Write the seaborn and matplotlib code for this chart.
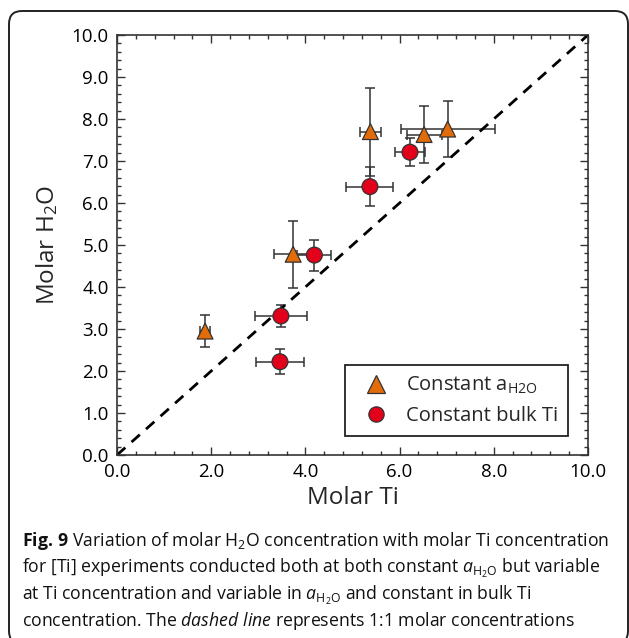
import numpy as np
import pandas as pd
import matplotlib
matplotlib.use("Agg")
import matplotlib.pyplot as plt
import seaborn as sns
from matplotlib.lines import Line2D
from matplotlib.patches import FancyBboxPatch
from matplotlib.ticker import MultipleLocator, FormatStrFormatter
from matplotlib.transforms import IdentityTransform

# datos (Molar Ti vs Molar H2O)
grupos = ["Constant a", "Constant bulk Ti"]

ti_a = [1.87, 3.74, 5.38, 6.52, 7.02]
h2o_a = [2.95, 4.78, 7.70, 7.63, 7.76]
ti_a_err = [0.10, 0.40, 0.23, 0.37, 1.00]
h2o_a_err = [0.38, 0.80, 1.05, 0.68, 0.66]

ti_b = [3.46, 3.48, 4.19, 5.37, 6.22]
h2o_b = [2.22, 3.31, 4.76, 6.39, 7.21]
ti_b_err = [0.50, 0.55, 0.36, 0.50, 0.32]
h2o_b_err = [0.30, 0.26, 0.37, 0.47, 0.33]

linea_1a1 = [0, 10]

color_a = "#E36C0A"
color_b = "#E2001A"

df = pd.DataFrame({
    "ti": ti_a + ti_b,
    "h2o": h2o_a + h2o_b,
    "ti_err": ti_a_err + ti_b_err,
    "h2o_err": h2o_a_err + h2o_b_err,
    "grupo": [grupos[0]] * len(ti_a) + [grupos[1]] * len(ti_b),
})

sns.set_style("ticks", {"xtick.direction": "in", "ytick.direction": "in"})
plt.rcParams["font.family"] = ["Open Sans", "DejaVu Sans"]
plt.rcParams["mathtext.fontset"] = "custom"
plt.rcParams["mathtext.rm"] = "Open Sans"
plt.rcParams["mathtext.it"] = "Open Sans:italic"
plt.rcParams["mathtext.bf"] = "Open Sans:bold"

fig = plt.figure(figsize=(6.29, 6.38), dpi=100)
ax = fig.add_axes([117 / 629, 1 - 455 / 638, 471 / 629, 420 / 638])

# linea 1:1
ax.plot(linea_1a1, linea_1a1, color="black", lw=2, ls=(0, (4, 3)), zorder=2)

# barras de error
ax.errorbar(df["ti"], df["h2o"], xerr=df["ti_err"], yerr=df["h2o_err"],
            fmt="none", ecolor="#333333", elinewidth=1.1, capsize=3.5,
            capthick=1.1, zorder=1)

sns.scatterplot(data=df, x="ti", y="h2o", hue="grupo", style="grupo",
                palette={grupos[0]: color_a, grupos[1]: color_b},
                markers={grupos[0]: "^", grupos[1]: "o"},
                hue_order=grupos[::-1], style_order=grupos[::-1],
                s=130, edgecolor="#333333", linewidth=0.9, legend=False,
                zorder=3, ax=ax)

ax.set_xlim(0, 10)
ax.set_ylim(0, 10)
ax.xaxis.set_major_locator(MultipleLocator(2))
ax.xaxis.set_minor_locator(MultipleLocator(0.4))
ax.yaxis.set_major_locator(MultipleLocator(1))
ax.yaxis.set_minor_locator(MultipleLocator(0.2))
ax.xaxis.set_major_formatter(FormatStrFormatter("%.1f"))
ax.yaxis.set_major_formatter(FormatStrFormatter("%.1f"))
ax.tick_params(which="both", direction="in", top=True, right=True,
               color="#333333", width=1.0, labelsize=13.5, labelcolor="black")
ax.tick_params(which="major", length=5.5, pad=6)
ax.tick_params(which="minor", length=3)
for sp in ax.spines.values():
    sp.set_linewidth(1.2)
    sp.set_color("#333333")

ax.set_xlabel("Molar Ti", fontsize=17.5, labelpad=3)
ax.set_ylabel("Molar H$_2$O", fontsize=17.5, labelpad=8)

handles = [
    Line2D([], [], marker="^", ls="none", markersize=12.5, markerfacecolor=color_a,
           markeredgecolor="#333333", markeredgewidth=0.9),
    Line2D([], [], marker="o", ls="none", markersize=11, markerfacecolor=color_b,
           markeredgecolor="#333333", markeredgewidth=0.9),
]
etiquetas = [r"Constant a$_{\mathregular{H2O}}$", "Constant bulk Ti"]
leg = ax.legend(handles, etiquetas, loc="lower right",
                bbox_to_anchor=(0.9575, 0.045), borderaxespad=0,
                frameon=True, fancybox=False, framealpha=1, edgecolor="#222222",
                fontsize=14.5, handletextpad=0.5, borderpad=0.5, labelspacing=0.5)
leg.get_frame().set_linewidth(1.3)

# marco redondeado alrededor de la figura
marco = FancyBboxPatch((9, -6), 619, 638 - 11 + 6,
                       boxstyle="round,pad=0,rounding_size=13",
                       transform=IdentityTransform(), fill=False,
                       edgecolor="#222222", linewidth=1.4)
fig.patches.append(marco)

# pie de figura
lineas = [
    r"$\mathbf{Fig.\,9}$ Variation of molar H$_2$O concentration with molar Ti concentration",
    r"for [Ti] experiments conducted both at both constant $\mathit{a}_{\mathregular{H_2O}}$ but variable",
    r"at Ti concentration and variable in $\mathit{a}_{\mathregular{H_2O}}$ and constant in bulk Ti",
    r"concentration. The $\mathit{dashed\ line}$ represents 1:1 molar concentrations",
]
bases = [546, 573, 600, 626]
textos = []
for txt, yb in zip(lineas, bases):
    textos.append(fig.text(22 / 629, 1 - yb / 638, txt, fontsize=13,
                           va="baseline", ha="left", color="#111111"))

# ajustar tamaño del pie al ancho de la referencia
fig.canvas.draw()
r = fig.canvas.get_renderer()
w1 = textos[0].get_window_extent(r).width
w4 = textos[3].get_window_extent(r).width
factor = (593 / w1 + 541 / w4) / 2
for t in textos:
    t.set_fontsize(13 * factor)

fig.savefig("out.png", dpi=100)
